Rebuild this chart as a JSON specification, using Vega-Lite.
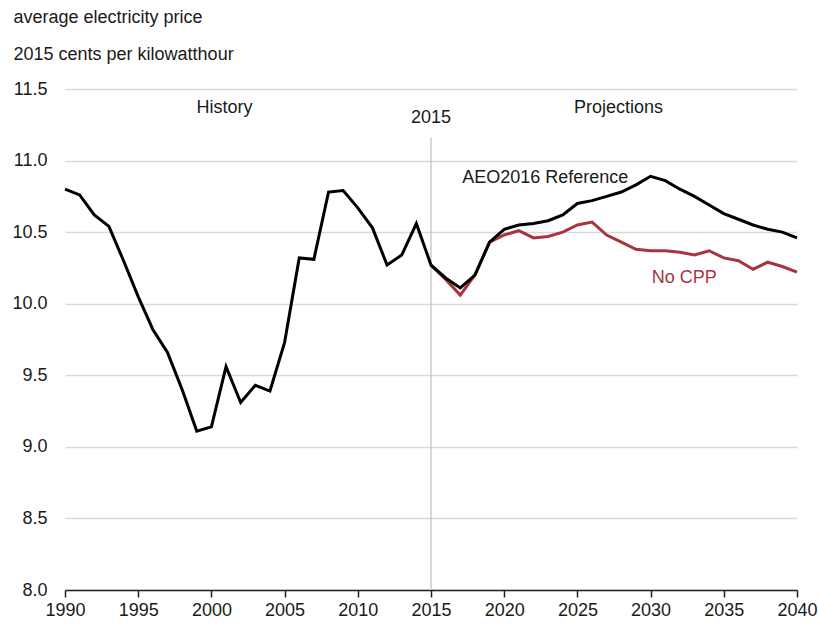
{
  "$schema": "https://vega.github.io/schema/vega-lite/v6.json",
  "width": 732,
  "height": 501,
  "autosize": {"type": "none"},
  "padding": {"left": 65, "top": 89, "right": 21, "bottom": 40},
  "background": "white",
  "config": {
    "view": {"stroke": null},
    "font": "Liberation Sans",
    "axis": {"labelFont": "Liberation Sans", "labelFontSize": 18, "labelColor": "#1a1a1a", "titleFont": "Liberation Sans"},
    "text": {"font": "Liberation Sans", "fontSize": 18}
  },
  "datasets": {
    "series": [
      {"year": 1990, "series": "Reference", "value": 10.80},
      {"year": 1991, "series": "Reference", "value": 10.76},
      {"year": 1992, "series": "Reference", "value": 10.62},
      {"year": 1993, "series": "Reference", "value": 10.54},
      {"year": 1994, "series": "Reference", "value": 10.30},
      {"year": 1995, "series": "Reference", "value": 10.05},
      {"year": 1996, "series": "Reference", "value": 9.82},
      {"year": 1997, "series": "Reference", "value": 9.66},
      {"year": 1998, "series": "Reference", "value": 9.40},
      {"year": 1999, "series": "Reference", "value": 9.11},
      {"year": 2000, "series": "Reference", "value": 9.14},
      {"year": 2001, "series": "Reference", "value": 9.56},
      {"year": 2002, "series": "Reference", "value": 9.31},
      {"year": 2003, "series": "Reference", "value": 9.43},
      {"year": 2004, "series": "Reference", "value": 9.39},
      {"year": 2005, "series": "Reference", "value": 9.73},
      {"year": 2006, "series": "Reference", "value": 10.32},
      {"year": 2007, "series": "Reference", "value": 10.31},
      {"year": 2008, "series": "Reference", "value": 10.78},
      {"year": 2009, "series": "Reference", "value": 10.79},
      {"year": 2010, "series": "Reference", "value": 10.67},
      {"year": 2011, "series": "Reference", "value": 10.53},
      {"year": 2012, "series": "Reference", "value": 10.27},
      {"year": 2013, "series": "Reference", "value": 10.34},
      {"year": 2014, "series": "Reference", "value": 10.56},
      {"year": 2015, "series": "Reference", "value": 10.27},
      {"year": 2016, "series": "Reference", "value": 10.18},
      {"year": 2017, "series": "Reference", "value": 10.11},
      {"year": 2018, "series": "Reference", "value": 10.20},
      {"year": 2019, "series": "Reference", "value": 10.43},
      {"year": 2020, "series": "Reference", "value": 10.52},
      {"year": 2021, "series": "Reference", "value": 10.55},
      {"year": 2022, "series": "Reference", "value": 10.56},
      {"year": 2023, "series": "Reference", "value": 10.58},
      {"year": 2024, "series": "Reference", "value": 10.62},
      {"year": 2025, "series": "Reference", "value": 10.70},
      {"year": 2026, "series": "Reference", "value": 10.72},
      {"year": 2027, "series": "Reference", "value": 10.75},
      {"year": 2028, "series": "Reference", "value": 10.78},
      {"year": 2029, "series": "Reference", "value": 10.83},
      {"year": 2030, "series": "Reference", "value": 10.89},
      {"year": 2031, "series": "Reference", "value": 10.86},
      {"year": 2032, "series": "Reference", "value": 10.80},
      {"year": 2033, "series": "Reference", "value": 10.75},
      {"year": 2034, "series": "Reference", "value": 10.69},
      {"year": 2035, "series": "Reference", "value": 10.63},
      {"year": 2036, "series": "Reference", "value": 10.59},
      {"year": 2037, "series": "Reference", "value": 10.55},
      {"year": 2038, "series": "Reference", "value": 10.52},
      {"year": 2039, "series": "Reference", "value": 10.50},
      {"year": 2040, "series": "Reference", "value": 10.46},
      {"year": 2015, "series": "No CPP", "value": 10.27},
      {"year": 2016, "series": "No CPP", "value": 10.17},
      {"year": 2017, "series": "No CPP", "value": 10.06},
      {"year": 2018, "series": "No CPP", "value": 10.20},
      {"year": 2019, "series": "No CPP", "value": 10.43},
      {"year": 2020, "series": "No CPP", "value": 10.48},
      {"year": 2021, "series": "No CPP", "value": 10.51},
      {"year": 2022, "series": "No CPP", "value": 10.46},
      {"year": 2023, "series": "No CPP", "value": 10.47},
      {"year": 2024, "series": "No CPP", "value": 10.50},
      {"year": 2025, "series": "No CPP", "value": 10.55},
      {"year": 2026, "series": "No CPP", "value": 10.57},
      {"year": 2027, "series": "No CPP", "value": 10.48},
      {"year": 2028, "series": "No CPP", "value": 10.43},
      {"year": 2029, "series": "No CPP", "value": 10.38},
      {"year": 2030, "series": "No CPP", "value": 10.37},
      {"year": 2031, "series": "No CPP", "value": 10.37},
      {"year": 2032, "series": "No CPP", "value": 10.36},
      {"year": 2033, "series": "No CPP", "value": 10.34},
      {"year": 2034, "series": "No CPP", "value": 10.37},
      {"year": 2035, "series": "No CPP", "value": 10.32},
      {"year": 2036, "series": "No CPP", "value": 10.30},
      {"year": 2037, "series": "No CPP", "value": 10.24},
      {"year": 2038, "series": "No CPP", "value": 10.29},
      {"year": 2039, "series": "No CPP", "value": 10.26},
      {"year": 2040, "series": "No CPP", "value": 10.22}
    ],
    "divider": [{"year": 2015, "top": 11.16, "bottom": 8.0}],
    "labels": [
      {"label": "History", "year": 2000.9, "value": 11.37},
      {"label": "Projections", "year": 2027.8, "value": 11.37},
      {"label": "2015", "year": 2015, "value": 11.30},
      {"label": "AEO2016 Reference", "year": 2022.8, "value": 10.88}
    ],
    "redlabel": [{"label": "No CPP", "year": 2032.3, "value": 10.18}]
  },
  "layer": [
    {
      "data": {"name": "divider"},
      "mark": {"type": "rule", "color": "#bfbfbf", "strokeWidth": 1.2},
      "encoding": {
        "x": {"field": "year", "type": "quantitative", "scale": {"domain": [1990, 2040], "nice": false, "zero": false},
          "axis": {"values": [1990, 1995, 2000, 2005, 2010, 2015, 2020, 2025, 2030, 2035, 2040], "format": "d", "title": null, "grid": false, "domainColor": "#222", "domainWidth": 1.5, "tickColor": "#222", "tickWidth": 1.5, "tickSize": 7, "labelPadding": 4, "labelFlush": false, "labelOverlap": false, "labelBound": false}},
        "y": {"field": "top", "type": "quantitative", "scale": {"domain": [8, 11.5], "nice": false, "zero": false},
          "axis": {"values": [8, 8.5, 9, 9.5, 10, 10.5, 11, 11.5], "format": ".1f", "domain": false, "ticks": false, "labelPadding": 18, "labelFlush": false, "labelOverlap": false, "gridColor": "#d9d9d9", "gridWidth": 1.5,
            "title": ["average electricity price", "2015 cents per kilowatthour"], "titleAngle": 0, "titleAlign": "left", "titleBaseline": "alphabetic", "titleX": -52, "titleY": -67, "titleLineHeight": 37, "titleFontSize": 18, "titleFontWeight": "normal", "titleColor": "#1a1a1a"}},
        "y2": {"field": "bottom"}
      }
    },
    {
      "data": {"name": "series"},
      "transform": [{"filter": "datum.series == 'No CPP'"}],
      "mark": {"type": "line", "color": "#a8343f", "strokeWidth": 3},
      "encoding": {
        "x": {"field": "year", "type": "quantitative"},
        "y": {"field": "value", "type": "quantitative"}
      }
    },
    {
      "data": {"name": "series"},
      "transform": [{"filter": "datum.series == 'Reference'"}],
      "mark": {"type": "line", "color": "#000000", "strokeWidth": 3},
      "encoding": {
        "x": {"field": "year", "type": "quantitative"},
        "y": {"field": "value", "type": "quantitative"}
      }
    },
    {
      "data": {"name": "labels"},
      "mark": {"type": "text", "color": "#1a1a1a", "align": "center", "baseline": "middle"},
      "encoding": {
        "x": {"field": "year", "type": "quantitative"},
        "y": {"field": "value", "type": "quantitative"},
        "text": {"field": "label"}
      }
    },
    {
      "data": {"name": "redlabel"},
      "mark": {"type": "text", "color": "#a8343f", "align": "center", "baseline": "middle"},
      "encoding": {
        "x": {"field": "year", "type": "quantitative"},
        "y": {"field": "value", "type": "quantitative"},
        "text": {"field": "label"}
      }
    }
  ]
}
